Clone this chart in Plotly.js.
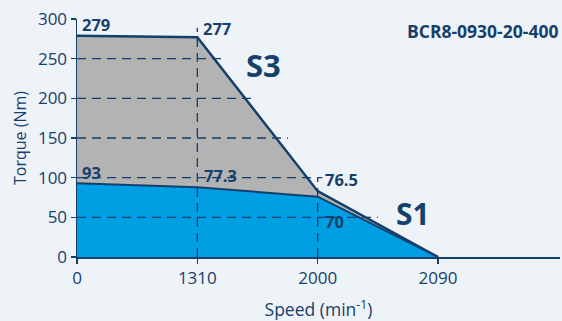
<!DOCTYPE html>
<html>
<head>
<meta charset="utf-8">
<script src="https://cdn.plot.ly/plotly-3.0.1.min.js"></script>
<style>
html,body{margin:0;padding:0;background:#eef3f8;}
#chart{width:562px;height:321px;}
</style>
</head>
<body>
<div id="chart"></div>
<script>
// Data
const speedCategories = ['0', '1310', '2000', '2090'];
const s3Torque = [279, 277, 83, 0];
const s1Torque = [93, 88, 76, 0];
const s3Labels = ['279', '277', '76.5'];
const s1Labels = ['93', '77.3', '70'];
const yTicks = [0, 50, 100, 150, 200, 250, 300];
const gridLevels = [50, 100, 150, 200, 250];
const modelName = 'BCR8-0930-20-400';

const navy = '#123f6c';
const textNavy = '#16406c';
const font = 'Open Sans, Noto Sans, sans-serif';

// dashed helper lines: horizontal gridline extents (category index units)
const gridEnds = [2.5, 2.04, 1.753, 1.496, 1.247];
const shapes = [];
gridLevels.forEach((lv, i) => {
  shapes.push({type: 'line', xref: 'x', yref: 'y', x0: 0, x1: gridEnds[i], y0: lv, y1: lv,
    line: {color: navy, width: 1.3, dash: '9px,6px'}, layer: 'above'});
});
shapes.push({type: 'line', xref: 'x', yref: 'y', x0: 1, x1: 1, y0: 0, y1: 289,
  line: {color: navy, width: 1.3, dash: '9px,6px'}, layer: 'above'});
shapes.push({type: 'line', xref: 'x', yref: 'y', x0: 2, x1: 2, y0: 0, y1: 100,
  line: {color: navy, width: 1.3, dash: '9px,6px'}, layer: 'above'});

const traces = [
  {x: speedCategories, y: s3Torque, type: 'scatter', mode: 'lines', fill: 'tozeroy',
   fillcolor: '#b3b3b3', line: {color: navy, width: 2.5}, hoverinfo: 'skip'},
  {x: speedCategories, y: s1Torque, type: 'scatter', mode: 'lines', fill: 'tozeroy',
   fillcolor: '#009fe3', line: {color: navy, width: 2}, hoverinfo: 'skip'}
];

const labelFont = {family: font, size: 16.5, color: textNavy, weight: 700};
const annotations = [
  {x: 0, y: s3Torque[0], text: s3Labels[0], xshift: 3, yshift: 11},
  {x: 1, y: s3Torque[1], text: s3Labels[1], xshift: 4, yshift: 9},
  {x: 2, y: s3Torque[2], text: s3Labels[2], xshift: 5, yshift: 12},
  {x: 0, y: s1Torque[0], text: s1Labels[0], xshift: 3, yshift: 11},
  {x: 1, y: s1Torque[1], text: s1Labels[1], xshift: 5, yshift: 12},
  {x: 2, y: s1Torque[2], text: s1Labels[2], xshift: 5, yshift: -25}
].map(a => Object.assign({xref: 'x', yref: 'y', xanchor: 'left', yanchor: 'middle',
  showarrow: false, font: labelFont}, a));

annotations.push({xref: 'paper', yref: 'paper', x: (263 - 77) / 483, y: (257 - 65) / 238,
  text: 'S3', showarrow: false, xanchor: 'center', yanchor: 'middle',
  font: {family: font, size: 31, color: textNavy, weight: 700}});
annotations.push({xref: 'paper', yref: 'paper', x: (413 - 77) / 483, y: (257 - 213) / 238,
  text: 'S1', showarrow: false, xanchor: 'center', yanchor: 'middle',
  font: {family: font, size: 30, color: textNavy, weight: 700}});
annotations.push({xref: 'paper', yref: 'paper', x: 1, y: (257 - 31) / 238,
  text: modelName, showarrow: false, xanchor: 'right', yanchor: 'middle', xshift: 0,
  font: {family: font, size: 17.5, color: textNavy, weight: 700}});

const layout = {
  width: 562, height: 321,
  margin: {l: 77, r: 2, t: 19, b: 64},
  paper_bgcolor: '#eef3f8', plot_bgcolor: '#eef3f8',
  showlegend: false,
  font: {family: font, color: textNavy},
  xaxis: {
    type: 'category', categoryorder: 'array', categoryarray: speedCategories,
    range: [0, 4.014], showgrid: false, zeroline: false,
    showline: true, linecolor: navy, linewidth: 1.5,
    ticks: 'outside', ticklen: 5, tickcolor: navy, tickwidth: 1.3,
    tickfont: {family: font, size: 17, color: textNavy},
    title: {text: 'Speed (min<sup>-1</sup>)', font: {family: font, size: 17.5, color: textNavy}, standoff: 16},
    fixedrange: true
  },
  yaxis: {
    range: [0, 300], tickvals: yTicks, showgrid: false, zeroline: false,
    showline: true, linecolor: navy, linewidth: 1.5,
    ticks: 'outside', ticklen: 5, tickcolor: navy, tickwidth: 1.3,
    tickfont: {family: font, size: 17, color: textNavy},
    title: {text: 'Torque (Nm)', font: {family: font, size: 16, color: textNavy}, standoff: 7},
    fixedrange: true
  },
  shapes: shapes,
  annotations: annotations
};

Plotly.newPlot('chart', traces, layout, {displayModeBar: false, staticPlot: true});
</script>
</body>
</html>
